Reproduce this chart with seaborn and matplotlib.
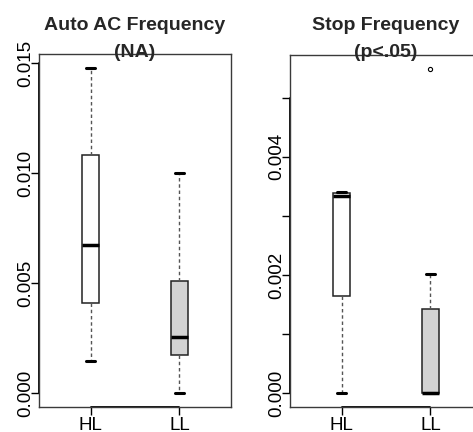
import matplotlib
matplotlib.use("Agg")
import matplotlib.pyplot as plt
import matplotlib.transforms as mtransforms
import numpy as np
import pandas as pd
import seaborn as sns

# ---- data ----
groups = ["HL", "LL"]
auto_ac_hl = [0.00145, 0.00408, 0.00673, 0.0108, 0.01477]
auto_ac_ll = [0.0, 0.00173, 0.00256, 0.0051, 0.0100]
stop_hl = [0.0, 0.00164, 0.00334, 0.00338, 0.00340]
stop_ll = [0.0, 0.0, 0.0, 0.0, 0.00084, 0.00202, 0.00548]

titles = ["Auto AC Frequency\n(NA)", "Stop Frequency\n(p<.05)"]
left_ticks = [0.000, 0.005, 0.010, 0.015]
left_labels = ["0.000", "0.005", "0.010", "0.015"]
right_ticks = [0.000, 0.001, 0.002, 0.003, 0.004, 0.005]
right_labels = ["0.000", "", "0.002", "", "0.004", ""]

sns.set_theme(style="white")
plt.rcParams["font.family"] = ["Liberation Sans", "DejaVu Sans"]

W, H = 473, 432
fig = plt.figure(figsize=(W / 100, H / 100), dpi=100)


def px_axes(l, r, t, b):
    return fig.add_axes([l / W, (H - b) / H, (r - l) / W, (b - t) / H])


ax1 = px_axes(39, 231, 54, 407)
ax2 = px_axes(290, 482, 55, 407)

panels = [
    (ax1, {"HL": auto_ac_hl, "LL": auto_ac_ll}, left_ticks, left_labels, (-0.000636, 0.01541), titles[0]),
    (ax2, {"HL": stop_hl, "LL": stop_ll}, right_ticks, right_labels, (-0.000232, 0.00572), titles[1]),
]

palette = {"HL": "white", "LL": "#D3D3D3"}

for ax, d, ticks, labels, ylim, title in panels:
    df = pd.DataFrame(
        [(g, v) for g in groups for v in d[g]], columns=["group", "value"]
    )
    sns.boxplot(
        data=df, x="group", y="value", hue="group", palette=palette,
        order=groups, hue_order=groups, width=0.2, linecolor="#222222",
        linewidth=1.1, legend=False, ax=ax,
        whiskerprops={"linestyle": (0, (2.5, 2)), "color": "#555555", "linewidth": 1},
        capprops={"linewidth": 2.2, "color": "black"},
        medianprops={"linewidth": 2.5, "color": "black"},
        flierprops={"marker": "o", "markersize": 3, "markerfacecolor": "none",
                    "markeredgecolor": "black", "markeredgewidth": 0.8},
    )
    ax.set_xlim(-0.58, 1.58)
    ax.set_ylim(*ylim)
    ax.set_yticks(ticks)
    ax.set_yticklabels(labels)
    ax.set_xlabel("")
    ax.set_ylabel("")
    for s in ax.spines.values():
        s.set_visible(True)
        s.set_color("#3a3a3a")
        s.set_linewidth(1.0)
    ax.tick_params(axis="both", which="both", direction="out", length=5.5,
                   width=1.0, color="black", labelsize=13.5, labelcolor="black",
                   left=True, bottom=True, pad=2)
    ax.tick_params(axis="y", labelrotation=90, pad=-2)
    for lab in ax.get_yticklabels():
        lab.set_va("center")
    # R-style axis lines spanning the tick range
    ax.plot([-0.58, -0.58], [ticks[0], ticks[-1]], color="black", lw=1.3, clip_on=False)
    ax.plot([0, 1], [ylim[0], ylim[0]], color="black", lw=1.3, clip_on=False)
    tr = mtransforms.blended_transform_factory(ax.transAxes, fig.transFigure)
    ax.text(0.5, (H - 57) / H, title, transform=tr, ha="center", va="baseline",
            fontsize=14, fontweight="bold", linespacing=1.75,
            family=["Liberation Sans", "DejaVu Sans"])

fig.savefig("out.png", dpi=100)
